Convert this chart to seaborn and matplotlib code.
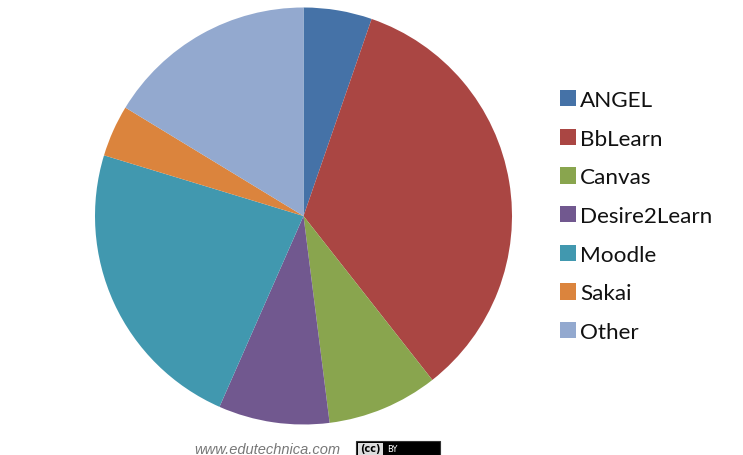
import matplotlib
matplotlib.use('Agg')
import matplotlib.pyplot as plt
from matplotlib.patches import Rectangle
import seaborn as sns

# Valores (% aproximado)
labels = ['ANGEL', 'BbLearn', 'Canvas', 'Desire2Learn', 'Moodle', 'Sakai', 'Other']
shares = [5.3, 34.1, 8.6, 8.6, 23.1, 4.0, 16.3]
colors = ['#4572A7', '#AA4643', '#89A54E', '#71588F', '#4198AF', '#DB843D', '#93A9CF']

sns.set_theme(style='white')
sns.set_palette(colors)
plt.rcParams['font.family'] = ['Lato', 'DejaVu Sans']

W, H = 743, 456
fig = plt.figure(figsize=(W / 100, H / 100), dpi=100)

# Pizza com centro em (303.5, 217) e raio de 208.5 px
ax = fig.add_axes([(303.5 - 208.5) / W, 1 - (217 + 208.5) / H, 417 / W, 417 / H])
wedges, _ = ax.pie(shares, colors=sns.color_palette(), startangle=90, counterclock=False, radius=1,
                   wedgeprops={'linewidth': 0})
ax.set_xlim(-1, 1)
ax.set_ylim(-1, 1)

leg = fig.legend(wedges, labels, loc='upper left', bbox_to_anchor=(560 / W, 1 - 91 / H),
                 frameon=False, fontsize=16.2, handlelength=0.72, handleheight=0.72,
                 handletextpad=0.17, labelspacing=0.83, borderpad=0, borderaxespad=0)
for t in leg.get_texts():
    t.set_color('#111111')

# Rodape
fig.text(194 / W, 1 - 450 / H, 'www.edutechnica.com', fontsize=10.5, style='italic',
         family='Liberation Sans', color='#777777', va='center')
fig.add_artist(Rectangle((356 / W, 1 - 456 / H), 84 / W, 14 / H, transform=fig.transFigure,
                         facecolor='black', edgecolor='#333333', lw=0.8))
fig.add_artist(Rectangle((358 / W, 1 - 456 / H), 25 / W, 12 / H, transform=fig.transFigure,
                         facecolor='#dddddd', edgecolor='none'))
fig.text(370 / W, 1 - 449.5 / H, '(cc)', fontsize=7, weight='bold', family='DejaVu Sans',
         color='black', ha='center', va='center')
fig.text(392 / W, 1 - 449.5 / H, 'BY', fontsize=6, family='DejaVu Sans', color='white',
         ha='center', va='center')

fig.savefig('out.png', dpi=100)
